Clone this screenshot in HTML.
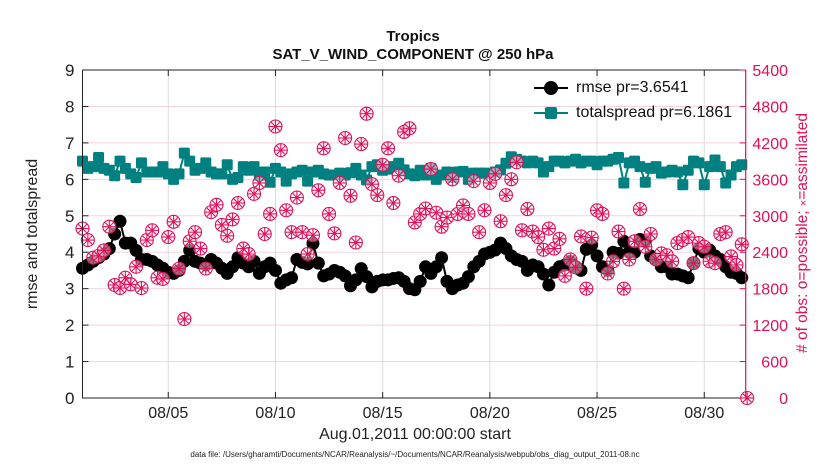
<!DOCTYPE html>
<html><head><meta charset="utf-8"><style>
body{margin:0;background:#fff;}
svg{display:block;font-family:"Liberation Sans",sans-serif;}
</style></head><body>
<svg id="c" width="830" height="470"></svg>
<script>
const dateTicks=["08/05","08/10","08/15","08/20","08/25","08/30"];
const dateTickDays=[4,9,14,19,24,29];
const yTicks=[0,1,2,3,4,5,6,7,8,9];
const obsTicks=[0,600,1200,1800,2400,3000,3600,4200,4800,5400];
const rmse=[3.56,3.65,3.75,3.85,3.95,4.1,4.5,4.85,4.25,4.25,4.05,3.8,3.8,3.75,3.65,3.56,3.45,3.42,3.5,3.75,4.05,3.75,3.7,3.65,3.8,3.7,3.56,3.42,3.6,3.85,3.7,3.6,3.75,3.42,3.6,3.7,3.5,3.15,3.24,3.3,3.8,3.72,3.68,4.24,3.7,3.35,3.4,3.5,3.45,3.35,3.08,3.24,3.55,3.33,3.05,3.2,3.24,3.24,3.28,3.3,3.2,3.0,2.97,3.2,3.6,3.42,3.6,3.85,3.2,3.0,3.1,3.15,3.33,3.6,3.75,3.95,4.0,4.06,4.25,4.1,3.9,3.8,3.75,3.5,3.65,3.6,3.4,3.1,3.45,3.6,3.65,3.75,3.6,3.5,4.08,4.2,3.9,3.6,3.5,4.0,3.97,4.3,4.0,4.0,4.35,4.3,3.9,3.8,3.6,3.6,3.4,3.4,3.35,3.3,3.7,4.1,4.0,4.06,3.9,3.8,3.6,3.45,3.42,3.3];
const spread=[6.5,6.3,6.35,6.6,6.3,6.25,6.1,6.5,6.3,6.15,6.05,6.45,6.2,6.2,6.2,6.35,6.15,6.0,6.15,6.72,6.5,6.25,6.3,6.45,6.2,6.15,6.15,6.4,6.0,6.05,6.35,6.25,6.35,6.1,6.2,5.92,6.3,6.2,5.95,6.15,6.2,6.25,5.95,6.2,6.25,6.15,6.12,6.12,6.17,6.12,6.18,6.3,6.12,5.98,6.35,6.4,6.25,6.28,6.35,6.44,6.26,6.15,6.1,6.25,6.12,6.3,6.0,6.12,6.2,6.05,6.2,6.22,6.0,6.17,6.17,6.17,6.15,6.2,6.26,6.44,6.62,6.55,6.5,6.45,6.5,6.45,6.2,6.35,6.5,6.5,6.45,6.5,6.55,6.45,6.5,6.5,6.4,6.5,6.5,6.55,6.6,5.9,6.45,6.5,6.35,5.92,6.3,6.35,6.17,6.2,6.25,6.2,5.85,6.25,6.5,6.45,5.85,6.35,6.53,6.35,5.9,6.12,6.35,6.4];
const obs=[2790,2600,2310,2340,2430,2820,1860,1810,1980,1870,2160,1810,2600,2760,1980,1960,2650,2900,2130,1300,2580,2730,2460,2130,3060,3180,2850,2670,2940,3210,2460,2370,3360,3540,2700,3030,4470,4080,3090,2730,3300,2730,2370,2680,3420,4110,3030,2710,3540,4280,3330,2560,4180,4680,3520,3340,3840,4110,3210,3660,4380,4440,2890,3030,3120,3770,3050,2820,2970,3600,3030,3170,3030,3570,2730,3090,3540,3690,2910,3340,3600,3880,2760,3110,2740,2650,2440,2790,2460,2620,2010,2280,2150,2660,1800,2640,3090,3030,2050,2250,2740,1800,2280,2580,3110,2490,2700,2280,2380,2350,2250,2550,2600,2650,2220,2550,2490,2250,2220,2700,2730,2330,2190,2530,0];

const NS="http://www.w3.org/2000/svg";
const svg=document.getElementById('c');
const L=82.5,R=745.7,T=70,B=398,DAYPX=21.44;
function xs(d){return L+d*DAYPX;}
function ys(v){return B-(B-T)*v/9;}
function yo(v){return B-(B-T)*v/5400;}
function mk(tag,attrs,parent){const e=document.createElementNS(NS,tag);for(const k in attrs)e.setAttribute(k,attrs[k]);(parent||svg).appendChild(e);return e;}
function txt(s,attrs){const e=mk('text',attrs);e.textContent=s;return e;}

yTicks.forEach(v=>{
  const g=mk('line',{x1:L,x2:R,y1:ys(v),y2:ys(v),stroke:'#f6d3df','stroke-width':1});
  
  
});
dateTickDays.forEach(d=>{
  const g=mk('line',{x1:xs(d),x2:xs(d),y1:T,y2:B,stroke:'#dcdcdc','stroke-width':1});
  
  
});

const sp=spread.map((v,i)=>xs(i/4)+','+ys(v)).join(' ');
const spl=mk('polyline',{points:sp,fill:'none',stroke:'#008080','stroke-width':2});


spread.forEach((v,i)=>{
  const r=mk('rect',{x:xs(i/4)-5.5,y:ys(v)-5.5,width:11,height:11,rx:1.5,fill:'#008080'});
  
  
});
const rp=rmse.map((v,i)=>xs(i/4)+','+ys(v)).join(' ');
const rl=mk('polyline',{points:rp,fill:'none',stroke:'#000','stroke-width':2});


rmse.forEach((v,i)=>{
  const c=mk('circle',{cx:xs(i/4),cy:ys(v),r:6.5,fill:'#000'});
  
  
});
const OC='#e0105a';
obs.forEach((v,i)=>{
  const x=xs(i/4),y=yo(v);
  const g=mk('g',{stroke:OC,'stroke-width':1.1,fill:'none'});
  
  
  mk('circle',{cx:x,cy:y,r:6.5,fill:'#fff','fill-opacity':0.5},g);
  mk('line',{x1:x-6.5,x2:x+6.5,y1:y,y2:y},g);
  mk('line',{x1:x,x2:x,y1:y-6.5,y2:y+6.5},g);
  mk('line',{x1:x-4.2,x2:x+4.2,y1:y-4.2,y2:y+4.2},g);
  mk('line',{x1:x-4.2,x2:x+4.2,y1:y+4.2,y2:y-4.2},g);
});

const ax=mk('path',{d:`M${L},${T}V${B}H${R}`,stroke:'#222',fill:'none','stroke-width':1});


mk('line',{x1:L,x2:R,y1:T,y2:T,stroke:'#222','stroke-width':1});
const ra=mk('line',{x1:R,x2:R,y1:T,y2:B,stroke:OC,'stroke-width':1.2});



yTicks.forEach(v=>{
  mk('line',{x1:L,x2:L+6,y1:ys(v),y2:ys(v),stroke:'#222'});
  const t=txt(String(v),{x:L-8,y:ys(v)+6,'text-anchor':'end','font-size':17,fill:'#222'});
  
  
});
obsTicks.forEach(v=>{
  mk('line',{x1:R-6,x2:R,y1:yo(v),y2:yo(v),stroke:OC});
  const t=txt(String(v),{x:788,y:yo(v)+6,'text-anchor':'end','font-size':16,fill:OC});
  
  
});
dateTicks.forEach((s,i)=>{
  const x=xs(dateTickDays[i]);
  mk('line',{x1:x,x2:x,y1:B,y2:B-6,stroke:'#222'});
  mk('line',{x1:x,x2:x,y1:T,y2:T+6,stroke:'#222'});
  const t=txt(s,{x:x,y:418,'text-anchor':'middle','font-size':16,fill:'#222'});
  
  
});
</script>
<div style="position:absolute;left:0;top:0;width:830px;height:470px;pointer-events:none;font-family:'Liberation Sans',sans-serif;">
<div style="position:absolute;left:0;width:830px;top:28px;text-align:center;font-weight:bold;font-size:15px;color:#111;line-height:18px;margin-left:-2px;">Tropics<br>SAT_V_WIND_COMPONENT @ 250 hPa</div>
<div style="position:absolute;left:230px;width:370px;top:426px;text-align:center;font-size:16px;color:#222;">Aug.01,2011 00:00:00 start</div>
<div style="position:absolute;left:100px;width:630px;top:450px;text-align:center;font-size:8px;color:#222;">data file: /Users/gharamti/Documents/NCAR/Reanalysis/~/Documents/NCAR/Reanalysis/webpub/obs_diag_output_2011-08.nc</div>
<div style="position:absolute;left:-67px;top:225px;width:200px;text-align:center;font-size:16px;color:#222;transform:rotate(-90deg);">rmse and totalspread</div>
<div style="position:absolute;left:663px;top:224px;width:280px;text-align:center;font-size:15.5px;color:#e0105a;transform:rotate(-90deg);"># of obs: o=possible; <span style="font-size:11px">×</span>=assimilated</div>
<div style="position:absolute;left:532px;top:76px;font-size:16px;color:#111;">
 <div style="position:relative;height:25px;line-height:24px;padding-left:44px;">
  <span style="position:absolute;left:2px;top:11px;width:34px;height:2px;background:#000;"></span>
  <span style="position:absolute;left:12px;top:5px;width:14px;height:14px;border-radius:50%;background:#000;"></span>rmse pr=3.6541</div>
 <div style="position:relative;height:25px;line-height:24px;padding-left:44px;">
  <span style="position:absolute;left:2px;top:11px;width:34px;height:2px;background:#008080;"></span>
  <span style="position:absolute;left:13px;top:6px;width:12px;height:12px;background:#008080;border-radius:2px;"></span>totalspread pr=6.1861</div>
</div>
</div>
</body></html>
